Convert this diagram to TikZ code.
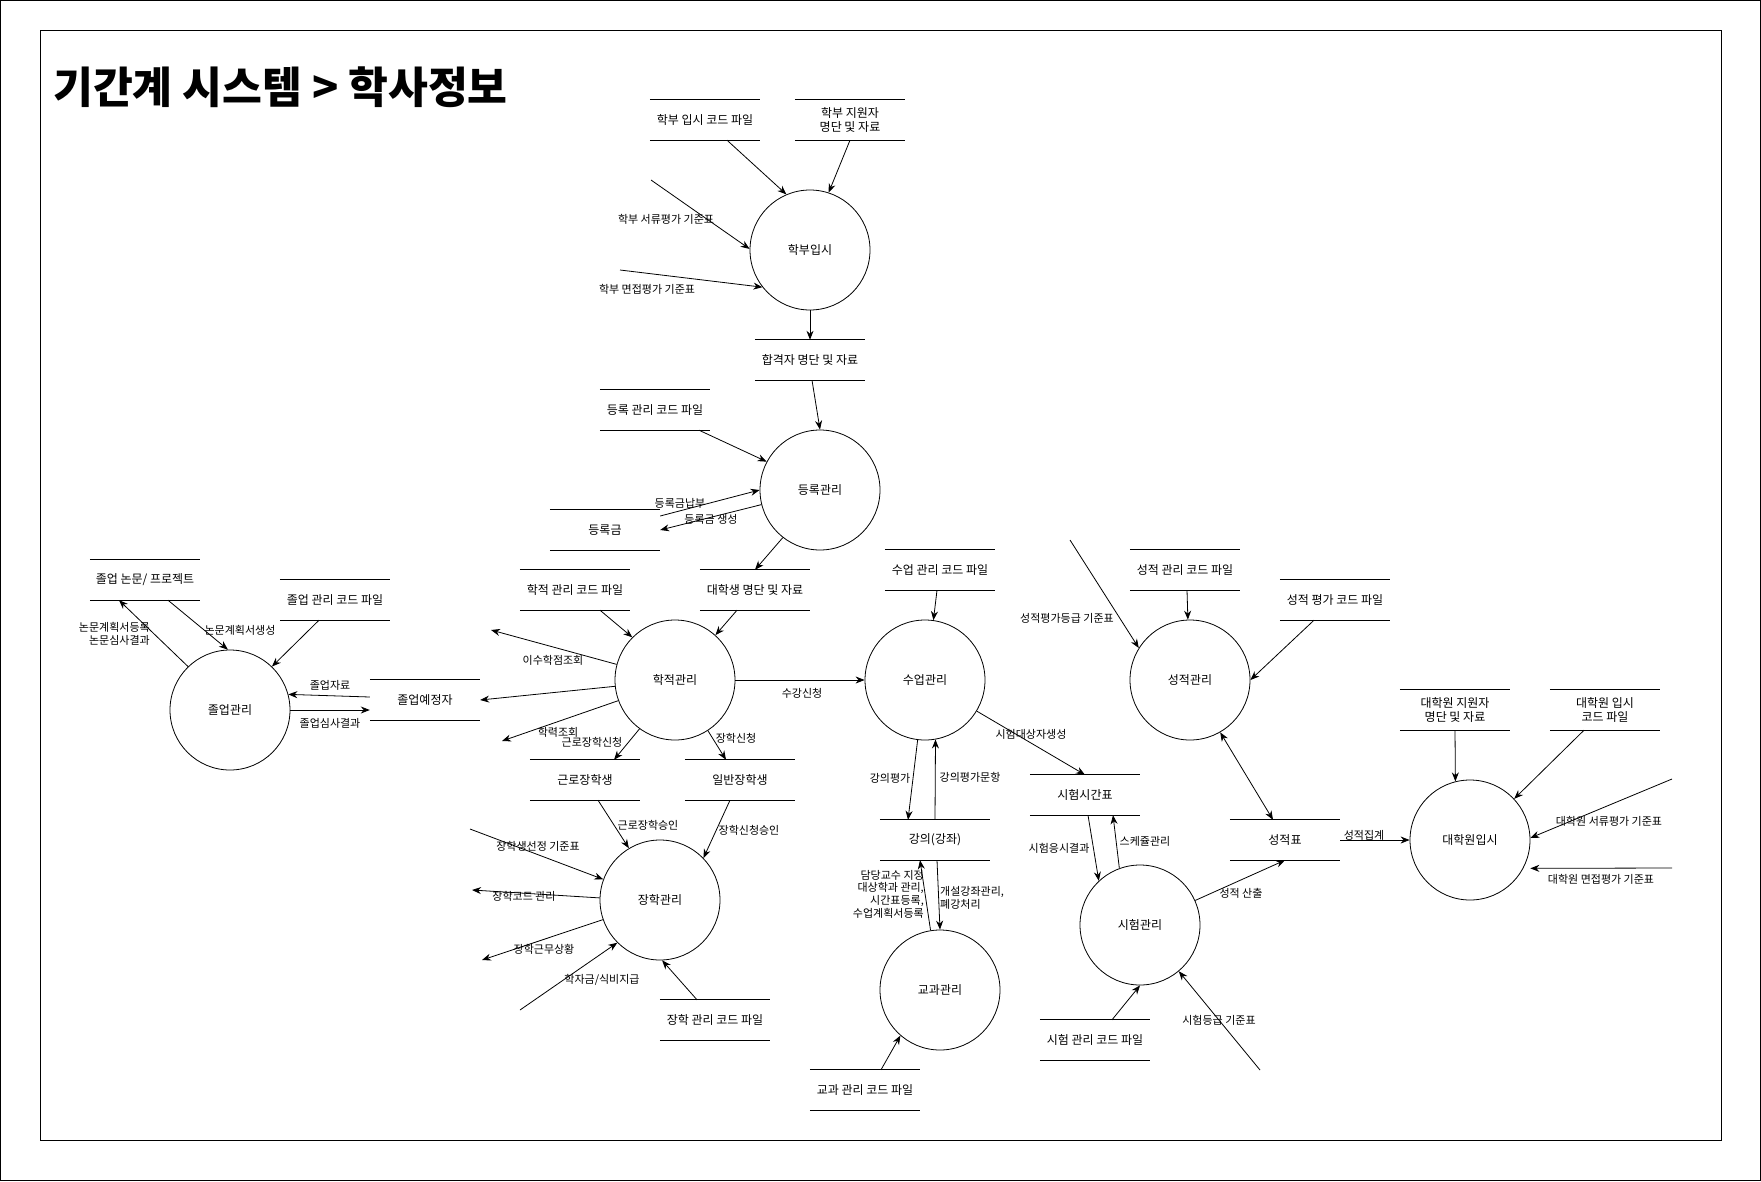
\documentclass[tikz,border=0pt]{standalone}
\usepackage{fontspec}
\setmainfont{Noto Sans CJK KR}
\usetikzlibrary{arrows.meta}

\begin{document}
\begin{tikzpicture}[x=1pt, y=-1pt,
        proc/.style={draw, circle, minimum size=120pt, inner sep=0pt, line width=0.8pt,
                     font=\fontsize{12}{14}\selectfont},
        store/.style={minimum width=110pt, minimum height=40pt, inner sep=0pt, align=center,
                      font=\fontsize{12}{14}\selectfont},
        lbl/.style={inner sep=0pt, font=\fontsize{11}{12.7}\selectfont},
        flow/.style={-{Stealth[length=9pt, width=7pt]}, line width=0.8pt},
        both/.style={{Stealth[length=9pt, width=7pt]}-{Stealth[length=9pt, width=7pt]}, line width=0.8pt},
        ]
    \useasboundingbox (0,0) rectangle (1761,1181);
    \draw[line width=1pt] (0.5,0.5) rectangle (1760.5,1180.5);
    \draw[line width=1pt] (40,30) rectangle (1721,1140);
    \node[anchor=west, inner sep=0pt, font=\fontsize{43.3}{44}\selectfont\bfseries] (title) at (53,87) {기간계 시스템 > 학사정보};

    \node[proc] (ugadm) at (810,250) {학부입시};
    \node[proc] (reg) at (820,490) {등록관리};
    \node[proc] (grad) at (230,710) {졸업관리};
    \node[proc] (acad) at (675,680) {학적관리};
    \node[proc] (cls) at (925,680) {수업관리};
    \node[proc] (grd) at (1190,680) {성적관리};
    \node[proc] (schol) at (660,900) {장학관리};
    \node[proc] (crs) at (940,990) {교과관리};
    \node[proc] (exam) at (1140,925) {시험관리};
    \node[proc] (gradadm) at (1470,840) {대학원입시};

    \node[store] (ugcode) at (705,120) {학부 입시 코드 파일};
    \node[store] (ugapp) at (850,120) {학부 지원자\\명단 및 자료};
    \node[store] (passed) at (810,360) {합격자 명단 및 자료};
    \node[store] (regcode) at (655,410) {등록 관리 코드 파일};
    \node[store] (fee) at (605,530) {등록금};
    \node[store] (thesis) at (145,580) {졸업 논문/ 프로젝트};
    \node[store] (gradcode) at (335,600) {졸업 관리 코드 파일};
    \node[store] (grads) at (425,700) {졸업예정자};
    \node[store] (acadcode) at (575,590) {학적 관리 코드 파일};
    \node[store] (students) at (755,590) {대학생 명단 및 자료};
    \node[store] (work) at (585,780) {근로장학생};
    \node[store] (general) at (740,780) {일반장학생};
    \node[store] (scholcode) at (715,1020) {장학 관리 코드 파일};
    \node[store] (clscode) at (940,570) {수업 관리 코드 파일};
    \node[store] (lecture) at (935,840) {강의(강좌)};
    \node[store] (examtab) at (1085,795) {시험시간표};
    \node[store] (grdcode) at (1185,570) {성적 관리 코드 파일};
    \node[store] (evalcode) at (1335,600) {성적 평가 코드 파일};
    \node[store] (report) at (1285,840) {성적표};
    \node[store] (examcode) at (1095,1040) {시험 관리 코드 파일};
    \node[store] (crscode) at (865,1090) {교과 관리 코드 파일};
    \node[store] (gapp) at (1455,710) {대학원 지원자\\명단 및 자료};
    \node[store] (gcode) at (1605,710) {대학원 입시\\코드 파일};

    \foreach \s in {ugcode, ugapp, passed, regcode, fee, thesis, gradcode, grads, acadcode,
                    students, work, general, scholcode, clscode, lecture, examtab, grdcode,
                    evalcode, report, examcode, crscode, gapp, gcode}
        \draw[line width=0.8pt] (\s.north west) -- (\s.north east) (\s.south west) -- (\s.south east);

    \coordinate (ugdoc) at (651,180);
    \coordinate (ugint) at (620,270);
    \coordinate (credit) at (491,630);
    \coordinate (record) at (502,741);
    \coordinate (selcrit) at (470,829);
    \coordinate (scholmg) at (472,890);
    \coordinate (scholwk) at (482,960);
    \coordinate (tuition) at (520,1010);
    \coordinate (grdcrit) at (1070,540);
    \coordinate (examcrit) at (1260,1070);
    \coordinate (gdoc) at (1672,779);
    \coordinate (gint) at (1672,868);

    \draw[flow] ([xshift=22pt]ugcode.south) -- (ugadm.113);
    \draw[flow] (ugapp.south) -- (ugadm.72);
    \draw[flow] (ugdoc) -- (ugadm.179);
    \draw[flow] (ugint) -- (ugadm.218);
    \draw[flow] (ugadm.south) -- (passed.north);
    \draw[flow] ([xshift=2pt]passed.south) -- (reg.north);
    \draw[flow] ([xshift=44pt]regcode.south) -- (reg.152);
    \draw[flow] ([yshift=14pt]fee.east) -- (reg.180);
    \draw[flow] (reg.194) -- (fee.east);
    \draw[flow] (reg.232) -- (students.north);

    \draw[flow] (grad.134) -- ([xshift=-26pt]thesis.south);
    \draw[flow] ([xshift=23pt]thesis.south) -- (grad.92);
    \draw[flow] ([xshift=-16pt]gradcode.south) -- (grad.46);
    \draw[flow] ([yshift=3pt]grads.west) -- (grad.15);
    \draw[flow] (grad.east) -- (grads.west |- grad.east);

    \draw[flow] ([xshift=25pt]acadcode.south) -- (acad.135);
    \draw[flow] ([xshift=-18pt]students.south) -- (acad.48);
    \draw[flow] (acad.165) -- (credit);
    \draw[flow] (acad.186) -- (grads.east);
    \draw[flow] (acad.200) -- (record);
    \draw[flow] (acad.234) -- ([xshift=29pt]work.north);
    \draw[flow] (acad.303) -- ([xshift=-14pt]general.north);
    \draw[flow] (acad.east) -- (cls.west);

    \draw[flow] ([xshift=-3pt]clscode.south) -- (cls.82);
    \draw[flow] (cls.329) -- (examtab.north);
    \draw[flow] (cls.263) -- ([xshift=-27pt]lecture.north);
    \draw[flow] (lecture.north) -- (cls.280);

    \draw[flow] (grdcrit) -- (grd.148);
    \draw[flow] ([xshift=2pt]grdcode.south) -- (grd.92);
    \draw[flow] ([xshift=-21pt]evalcode.south) -- (grd.east);
    \draw[both] (grd.300) -- ([xshift=-12pt]report.north);

    \draw[flow] ([xshift=13pt]work.south) -- (schol.121);
    \draw[flow] ([xshift=-10pt]general.south) -- (schol.44);
    \draw[flow] (selcrit) -- (schol.160);
    \draw[flow] (schol.178) -- (scholmg);
    \draw[flow] (schol.199) -- (scholwk);
    \draw[flow] (tuition) -- (schol.225);
    \draw[flow] ([xshift=-18pt]scholcode.north) -- (schol.272);

    \draw[flow] (crs.99) -- ([xshift=-15pt]lecture.south);
    \draw[flow] ([xshift=2pt]lecture.south) -- (crs.north);
    \draw[flow] ([xshift=16pt]crscode.north) -- (crs.229);

    \draw[flow] ([xshift=3pt]examtab.south) -- (exam.133);
    \draw[flow] (exam.110) -- ([xshift=28pt]examtab.south);
    \draw[flow] (exam.24) -- (report.south);
    \draw[flow] ([xshift=17pt]examcode.north) -- (exam.south);
    \draw[flow] (examcrit) -- (exam.310);

    \draw[flow] (report.east) -- (gradadm.west);
    \draw[flow] (gapp.south) -- (gradadm.104);
    \draw[flow] ([xshift=-21pt]gcode.south) -- (gradadm.43);
    \draw[flow] (gdoc) -- (gradadm.2);
    \draw[flow, shorten >=7pt] (gint) -- (gradadm.332);

    \node[lbl] (lugdoc) at (666,219) {학부 서류평가 기준표};
    \node[lbl] (lugint) at (647,289) {학부 면접평가 기준표};
    \node[lbl] (lpay) at (680,503) {등록금납부};
    \node[lbl] (lfee) at (711,519) {등록금 생성};
    \node[lbl, align=right, anchor=east] (lplan) at (150,634) {논문계획서등록\\논문심사결과};
    \node[lbl] (lmake) at (240,630) {논문계획서생성};
    \node[lbl] (lgdata) at (330,685) {졸업자료};
    \node[lbl] (lgres) at (330,723) {졸업심사결과};
    \node[lbl] (lcredit) at (553,660) {이수학점조회};
    \node[lbl] (lrecord) at (558,732) {학력조회};
    \node[lbl] (lworkreq) at (592,742) {근로장학신청};
    \node[lbl] (lreq) at (736,738) {장학신청};
    \node[lbl] (lenrol) at (802,693) {수강신청};
    \node[lbl] (lworkok) at (648,825) {근로장학승인};
    \node[lbl] (lreqok) at (749,830) {장학신청승인};
    \node[lbl] (lselcrit) at (538,846) {장학생선정 기준표};
    \node[lbl] (lscholmg) at (524,896) {장학코드 관리};
    \node[lbl] (lscholwk) at (544,949) {장학근무상황};
    \node[lbl] (ltuition) at (602,980) {학자금/식비지급};
    \node[lbl] (lexamgen) at (1031,734) {시험대상자생성};
    \node[lbl] (leval) at (890,778) {강의평가};
    \node[lbl] (levalq) at (970,777) {강의평가문항};
    \node[lbl, align=right, anchor=east] (lprof) at (924,894) {담당교수 지정\\대상학과 관리,\\시간표등록,\\수업계획서등록};
    \node[lbl, align=left, anchor=west] (lopen) at (940,898) {개설강좌관리,\\폐강처리};
    \node[lbl] (lgrdcrit) at (1067,618) {성적평가등급 기준표};
    \node[lbl] (lsched) at (1145,841) {스케쥴관리};
    \node[lbl] (ltaken) at (1059,848) {시험응시결과};
    \node[lbl] (lsum) at (1364,835) {성적집계};
    \node[lbl] (lcalc) at (1241,893) {성적 산출};
    \node[lbl] (lexamcrit) at (1219,1020) {시험등급 기준표};
    \node[lbl] (lgdoc) at (1609,821) {대학원 서류평가 기준표};
    \node[lbl] (lgint) at (1601,879) {대학원 면접평가 기준표};
\end{tikzpicture}
\end{document}
